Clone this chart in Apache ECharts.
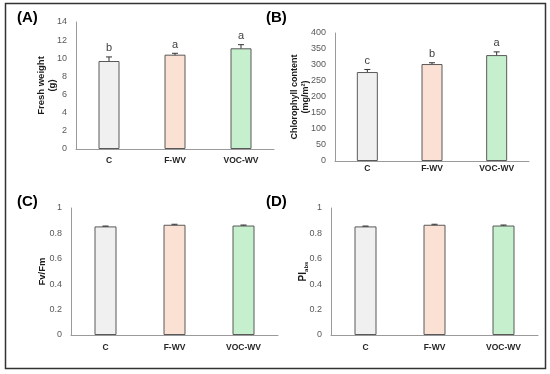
<!DOCTYPE html>
<html><head><meta charset="utf-8">
<script src="https://cdn.jsdelivr.net/npm/echarts@6/dist/echarts.min.js"></script>
<style>html,body{margin:0;padding:0;background:#fff}#c{width:550px;height:374px}</style>
</head><body><div id="c"></div>
<script>
const categories = ['C', 'F-WV', 'VOC-WV'];
const barColors = ['#f0f0f0', '#fbe1d4', '#c6efce'];

const freshWeight = [9.7, 10.4, 11.1];
const freshWeightErr = [0.45, 0.15, 0.4];
const freshLetters = ['b', 'a', 'a'];

const chlorophyll = [278, 303, 331];
const chlorophyllErr = [8, 4, 10];
const chlorophyllLetters = ['c', 'b', 'a'];

const fvfm = [0.855, 0.868, 0.862];
const fvfmErr = [0.003, 0.004, 0.004];

const piAbs = [0.855, 0.868, 0.862];
const piAbsErr = [0.003, 0.004, 0.004];

const yTicksA = {min: 0, max: 14, interval: 2};
const yTicksB = {min: 0, max: 400, interval: 50};
const yTicksC = {min: 0, max: 1, interval: 0.2};
const yTicksD = {min: 0, max: 1, interval: 0.2};

const chart = echarts.init(document.getElementById('c'));
const font = 'Arial, "Liberation Sans", sans-serif';

function xAx(i, margin) {
  return {
    type: 'category', gridIndex: i, data: categories,
    axisLine: {lineStyle: {color: '#9a9a9a', width: 1}},
    axisTick: {show: false},
    axisLabel: {margin: margin, fontSize: 8.5, fontWeight: 'bold', color: '#262626', fontFamily: font}
  };
}
function yAx(i, t, name, gap, fs, rich) {
  const o = {
    type: 'value', gridIndex: i, min: t.min, max: t.max, interval: t.interval,
    name: name, nameLocation: 'middle', nameGap: gap, nameMoveOverlap: false,
    nameTextStyle: {fontSize: fs, fontWeight: 'bold', color: '#1a1a1a', fontFamily: font, lineHeight: 11},
    axisLine: {show: true, lineStyle: {color: '#9a9a9a', width: 1}},
    axisTick: {show: false},
    splitLine: {show: false},
    axisLabel: {margin: 9, fontSize: 9, color: '#595959', fontFamily: font}
  };
  if (rich) o.nameTextStyle.rich = rich;
  return o;
}
function bars(i, vals, bw) {
  return {
    type: 'bar', xAxisIndex: i, yAxisIndex: i, barWidth: bw,
    data: vals.map((v, k) => ({value: v, itemStyle: {color: barColors[k]}})),
    itemStyle: {borderColor: '#595959', borderWidth: 1},
    silent: true, animation: false
  };
}
function errs(i, vals, err, letters) {
  return {
    type: 'custom', xAxisIndex: i, yAxisIndex: i, animation: false, silent: true,
    data: vals.map((v, k) => [k, v - err[k], v + err[k]]),
    renderItem: function (params, api) {
      const k = api.value(0);
      const lo = api.coord([k, api.value(1)]);
      const hi = api.coord([k, api.value(2)]);
      const x = lo[0], cw = 3;
      const st = {stroke: '#333', lineWidth: 1};
      const ch = [
        {type: 'line', shape: {x1: x, y1: lo[1], x2: x, y2: hi[1]}, style: st},
        {type: 'line', shape: {x1: x - cw, y1: lo[1], x2: x + cw, y2: lo[1]}, style: st},
        {type: 'line', shape: {x1: x - cw, y1: hi[1], x2: x + cw, y2: hi[1]}, style: st}
      ];
      if (letters) {
        ch.push({type: 'text', style: {text: letters[params.dataIndex], x: x, y: hi[1] - 3,
          textAlign: 'center', textVerticalAlign: 'bottom', fontSize: 11, fill: '#404040', fontFamily: font}});
      }
      return {type: 'group', children: ch};
    }
  };
}

const option = {
  animation: false,
  backgroundColor: '#fff',
  graphic: [
    {type: 'rect', shape: {x: 5.5, y: 3.5, width: 540, height: 365}, style: {fill: 'none', stroke: '#333', lineWidth: 1.5}},
    {type: 'text', left: 17, top: 10, style: {text: '(A)', fontSize: 15, fontWeight: 'bold', fill: '#000', fontFamily: font}},
    {type: 'text', left: 266, top: 10, style: {text: '(B)', fontSize: 15, fontWeight: 'bold', fill: '#000', fontFamily: font}},
    {type: 'text', left: 17, top: 194, style: {text: '(C)', fontSize: 15, fontWeight: 'bold', fill: '#000', fontFamily: font}},
    {type: 'text', left: 266, top: 194, style: {text: '(D)', fontSize: 15, fontWeight: 'bold', fill: '#000', fontFamily: font}}
  ],
  grid: [
    {left: 76, width: 198, top: 22, height: 127},
    {left: 335, width: 194, top: 33, height: 128},
    {left: 71, width: 207, top: 208, height: 127},
    {left: 331, width: 207, top: 208, height: 127}
  ],
  xAxis: [xAx(0, 7), xAx(1, 3), xAx(2, 8), xAx(3, 8)],
  yAxis: [
    yAx(0, yTicksA, 'Fresh weight\n(g)', 18, 9.5),
    yAx(1, yTicksB, 'Chlorophyll content\n(mg/m²)', 24, 9),
    yAx(2, yTicksC, 'Fv/Fm', 23, 9.5),
    yAx(3, yTicksD, '{b|PI}{s|abs}', 22, 9.5, {b: {fontSize: 10, fontWeight: 'bold', color: '#1a1a1a', fontFamily: font}, s: {fontSize: 6, fontWeight: 'bold', color: '#1a1a1a', fontFamily: font, verticalAlign: 'bottom', padding: [6, 0, 0, 0]}})
  ],
  series: [
    bars(0, freshWeight, 21), errs(0, freshWeight, freshWeightErr, freshLetters),
    bars(1, chlorophyll, 21), errs(1, chlorophyll, chlorophyllErr, chlorophyllLetters),
    bars(2, fvfm, 22), errs(2, fvfm, fvfmErr, null),
    bars(3, piAbs, 22), errs(3, piAbs, piAbsErr, null)
  ]
};
chart.setOption(option);
</script></body></html>
